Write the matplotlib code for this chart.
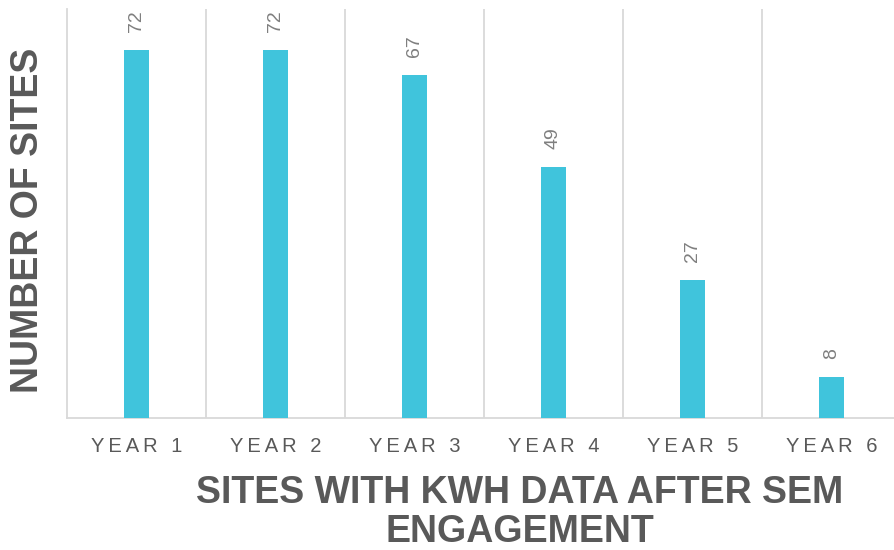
import matplotlib
matplotlib.use("Agg")
import matplotlib.pyplot as plt
import numpy as np

plt.rcParams['font.family'] = ['Liberation Sans', 'DejaVu Sans']

years = ['YEAR 1', 'YEAR 2', 'YEAR 3', 'YEAR 4', 'YEAR 5', 'YEAR 6']
sites = [72, 72, 67, 49, 27, 8]

bar_color = '#40C4DC'
text_gray = '#595959'
grid_gray = '#D9D9D9'

fig = plt.figure(figsize=(8.95, 5.5), dpi=100)
ax = fig.add_axes([67/895, 132/550, 834/895, 409/550])

x = np.arange(len(years))
ax.bar(x, sites, width=0.185, color=bar_color, zorder=3)

for xi, v in zip(x, sites):
    ax.annotate(str(v), xy=(xi, v), xytext=(0, 13), textcoords='offset points',
                rotation=90, ha='center', va='bottom', fontsize=14, color='#7F7F7F')

ax.set_xlim(-0.5, len(years) - 0.5)
ax.set_ylim(0, 80)

# category separators
for b in np.arange(0.5, len(years) - 0.5, 1):
    ax.axvline(b, color=grid_gray, lw=1.3, zorder=1)

ax.set_xticks(x)
ax.set_xticklabels(['\u2009'.join(y) for y in years], fontsize=14.5, color=text_gray)
ax.tick_params(axis='x', length=0, pad=14)
ax.set_yticks([])

for s in ['top', 'right']:
    ax.spines[s].set_visible(False)
ax.spines['left'].set_color(grid_gray)
ax.spines['bottom'].set_color(grid_gray)
ax.spines['left'].set_linewidth(1.3)
ax.spines['bottom'].set_linewidth(1.3)

fig.text(28/895, 1 - 220/550, 'NUMBER OF SITES', rotation=90, ha='center', va='center',
         fontsize=27, fontweight='bold', color=text_gray)
fig.text(520/895, 1 - 475/550, 'SITES WITH KWH DATA AFTER SEM\nENGAGEMENT', ha='center', va='top',
         fontsize=27, fontweight='bold', color=text_gray, linespacing=1.12)

fig.savefig('out.png', dpi=100)
